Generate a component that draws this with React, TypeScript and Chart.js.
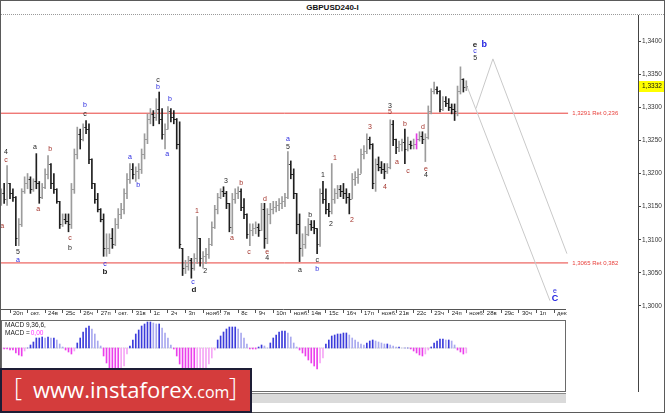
import React, { useEffect, useRef } from 'react';
import { Chart, registerables } from 'chart.js';

Chart.register(...registerables);

// ---------------- data ----------------
const SYMBOL = 'GBPUSD240-I';
const FIRST_BAR = -3; // bar index of first H4 bar (0 = 20 Oct 00:00)
const BARS_PER_DAY = 6;

// [open, high, low, close]
const BARS: number[][] = [
  [1.3162,1.3177,1.3152,1.3170],[1.3170,1.3185,1.3155,1.3162],[1.3162,1.3212,1.3152,1.3185],
  [1.3185,1.3185,1.3162,1.3170],[1.3170,1.3177,1.3158,1.3165],[1.3165,1.3165,1.3091,1.3102],
  [1.3102,1.3132,1.3091,1.3124],[1.3124,1.3177,1.3120,1.3174],[1.3174,1.3195,1.3170,1.3185],
  [1.3185,1.3200,1.3177,1.3192],[1.3192,1.3195,1.3170,1.3177],[1.3177,1.3192,1.3173,1.3188],
  [1.3188,1.3230,1.3177,1.3185],[1.3185,1.3188,1.3155,1.3165],[1.3165,1.3185,1.3162,1.3180],
  [1.3180,1.3207,1.3177,1.3200],[1.3200,1.3227,1.3192,1.3215],[1.3215,1.3215,1.3177,1.3185],
  [1.3185,1.3200,1.3170,1.3177],[1.3177,1.3177,1.3155,1.3158],[1.3158,1.3158,1.3117,1.3124],
  [1.3124,1.3139,1.3120,1.3132],[1.3132,1.3139,1.3124,1.3129],[1.3129,1.3139,1.3112,1.3124],
  [1.3124,1.3185,1.3117,1.3177],[1.3177,1.3237,1.3170,1.3230],[1.3230,1.3270,1.3222,1.3260],
  [1.3260,1.3267,1.3237,1.3252],[1.3252,1.3275,1.3249,1.3270],[1.3270,1.3280,1.3260,1.3267],
  [1.3267,1.3275,1.3215,1.3222],[1.3222,1.3222,1.3177,1.3185],[1.3185,1.3185,1.3155,1.3162],
  [1.3162,1.3170,1.3142,1.3147],[1.3147,1.3147,1.3127,1.3132],[1.3132,1.3139,1.3075,1.3087],
  [1.3087,1.3109,1.3075,1.3087],[1.3087,1.3109,1.3079,1.3102],[1.3102,1.3117,1.3087,1.3094],
  [1.3094,1.3132,1.3091,1.3124],[1.3124,1.3147,1.3117,1.3139],[1.3139,1.3155,1.3132,1.3147],
  [1.3147,1.3177,1.3139,1.3170],[1.3170,1.3200,1.3162,1.3192],[1.3192,1.3215,1.3185,1.3207],
  [1.3207,1.3215,1.3192,1.3200],[1.3200,1.3210,1.3188,1.3204],[1.3204,1.3215,1.3192,1.3207],
  [1.3207,1.3237,1.3200,1.3230],[1.3230,1.3260,1.3222,1.3252],[1.3252,1.3290,1.3245,1.3283],
  [1.3283,1.3298,1.3275,1.3290],[1.3290,1.3295,1.3272,1.3286],[1.3286,1.3313,1.3280,1.3298],
  [1.3298,1.3323,1.3275,1.3283],[1.3283,1.3298,1.3252,1.3260],[1.3260,1.3275,1.3237,1.3267],
  [1.3267,1.3301,1.3267,1.3295],[1.3295,1.3298,1.3278,1.3286],[1.3286,1.3295,1.3275,1.3283],
  [1.3283,1.3283,1.3237,1.3245],[1.3245,1.3278,1.3087,1.3094],[1.3087,1.3087,1.3046,1.3057],
  [1.3057,1.3069,1.3049,1.3060],[1.3060,1.3075,1.3054,1.3069],[1.3069,1.3072,1.3042,1.3057],
  [1.3057,1.3079,1.3054,1.3072],[1.3072,1.3135,1.3064,1.3102],[1.3102,1.3102,1.3060,1.3072],
  [1.3072,1.3082,1.3057,1.3075],[1.3075,1.3087,1.3064,1.3079],[1.3079,1.3102,1.3072,1.3094],
  [1.3094,1.3127,1.3091,1.3120],[1.3120,1.3152,1.3117,1.3147],[1.3147,1.3170,1.3139,1.3165],
  [1.3165,1.3177,1.3162,1.3173],[1.3173,1.3180,1.3165,1.3170],[1.3170,1.3173,1.3147,1.3155],
  [1.3155,1.3155,1.3112,1.3120],[1.3120,1.3170,1.3109,1.3162],[1.3162,1.3177,1.3155,1.3170],
  [1.3170,1.3180,1.3162,1.3173],[1.3173,1.3177,1.3144,1.3150],[1.3150,1.3162,1.3132,1.3139],
  [1.3139,1.3139,1.3102,1.3109],[1.3109,1.3124,1.3091,1.3114],[1.3114,1.3124,1.3106,1.3117],
  [1.3117,1.3127,1.3109,1.3120],[1.3120,1.3124,1.3105,1.3114],[1.3114,1.3155,1.3114,1.3147],
  [1.3147,1.3155,1.3087,1.3102],[1.3102,1.3147,1.3094,1.3139],[1.3139,1.3155,1.3124,1.3147],
  [1.3147,1.3158,1.3139,1.3150],[1.3150,1.3158,1.3142,1.3152],[1.3152,1.3162,1.3144,1.3155],
  [1.3155,1.3165,1.3147,1.3159],[1.3159,1.3170,1.3150,1.3165],[1.3165,1.3233,1.3162,1.3215],
  [1.3215,1.3219,1.3192,1.3200],[1.3200,1.3207,1.3162,1.3170],[1.3170,1.3170,1.3109,1.3124],
  [1.3124,1.3139,1.3067,1.3087],[1.3087,1.3109,1.3075,1.3094],[1.3094,1.3120,1.3087,1.3109],
  [1.3109,1.3132,1.3106,1.3124],[1.3124,1.3129,1.3114,1.3120],[1.3120,1.3129,1.3109,1.3117],
  [1.3117,1.3117,1.3079,1.3094],[1.3094,1.3177,1.3090,1.3170],[1.3170,1.3188,1.3155,1.3162],
  [1.3162,1.3177,1.3139,1.3147],[1.3147,1.3155,1.3135,1.3144],[1.3144,1.3215,1.3139,1.3162],
  [1.3162,1.3177,1.3155,1.3170],[1.3170,1.3182,1.3162,1.3177],[1.3177,1.3182,1.3165,1.3174],
  [1.3174,1.3185,1.3162,1.3170],[1.3170,1.3177,1.3155,1.3165],[1.3165,1.3170,1.3139,1.3162],
  [1.3162,1.3200,1.3162,1.3192],[1.3192,1.3203,1.3182,1.3195],[1.3195,1.3207,1.3185,1.3200],
  [1.3200,1.3237,1.3200,1.3230],[1.3230,1.3242,1.3222,1.3234],[1.3234,1.3260,1.3230,1.3252],
  [1.3252,1.3255,1.3237,1.3245],[1.3245,1.3245,1.3177,1.3185],[1.3185,1.3222,1.3173,1.3215],
  [1.3215,1.3225,1.3204,1.3210],[1.3210,1.3218,1.3200,1.3207],[1.3207,1.3215,1.3192,1.3204],
  [1.3204,1.3215,1.3200,1.3210],[1.3210,1.3281,1.3207,1.3275],[1.3275,1.3280,1.3242,1.3252],
  [1.3252,1.3252,1.3230,1.3240],[1.3240,1.3249,1.3233,1.3245],[1.3245,1.3252,1.3234,1.3248],
  [1.3248,1.3267,1.3215,1.3237],[1.3237,1.3255,1.3234,1.3245],[1.3245,1.3249,1.3237,1.3243],
  [1.3243,1.3252,1.3237,1.3245],[1.3245,1.3260,1.3237,1.3252],[1.3252,1.3263,1.3249,1.3257],
  [1.3257,1.3263,1.3245,1.3252],[1.3252,1.3260,1.3218,1.3255],[1.3255,1.3302,1.3252,1.3295],
  [1.3295,1.3328,1.3290,1.3325],[1.3325,1.3338,1.3320,1.3328],[1.3328,1.3331,1.3320,1.3325],
  [1.3325,1.3325,1.3293,1.3298],[1.3298,1.3316,1.3295,1.3310],[1.3310,1.3316,1.3301,1.3307],
  [1.3307,1.3313,1.3295,1.3301],[1.3301,1.3305,1.3290,1.3298],[1.3298,1.3305,1.3280,1.3295],
  [1.3295,1.3332,1.3287,1.3325],[1.3325,1.3361,1.3320,1.3343],[1.3343,1.3343,1.3323,1.3331],
  [1.3331,1.3340,1.3325,1.3332],
];
const MARKED_BAR = 139; // bar drawn in magenta

// MACD histogram, in units of 0.0001
const MACD_HIST = [
  -1,-1,-1,-2,-2,-5,-7,-8,-3,0,
  3,6,10,10,11,10,11,10,10,8,
  4,1,-2,-4,-6,-3,5,10,16,20,
  22,19,14,7,2,-8,-15,-20,-24,-26,
  -27,-25,-18,-6,2,8,14,18,22,24,
  26,26,25,24,24,20,15,10,3,-1,
  -8,-16,-22,-26,-28,-30,-30,-29,-28,-26,
  -22,-16,-10,-2,8,12,16,19,21,21,
  21,19,15,10,4,-1,-1,-1,1,3,
  2,0,5,10,13,16,17,17,15,11,
  5,1,-2,-5,-8,-12,-15,-18,-21,-15,
  -10,4,8,12,13,14,14,15,15,13,
  10,8,6,4,3,5,7,8,7,6,
  5,4,4,3,2,1,1,0,0,0,
  -1,-3,-5,-7,-8,-6,-2,1,5,7,
  9,9,8,8,7,3,-2,-4,-6,-5,
];
const MACD_TITLE = 'MACD 9,36,6,';
const MACD_VALUE = '0,00';

const DAY_LABELS = ['20п','окт.','24в','25с','26ч','27п','окт.','31в','1с','2ч','3п','нояб.','7в','8с','9ч','10п','нояб.','14в','15с','16ч','17п','нояб.','21в','22с','23ч','24п','нояб.','28в','29с','30ч','1п','дек'];
const PRICE_TICKS = [1.3000,1.3050,1.3100,1.3150,1.3200,1.3250,1.3300,1.3350,1.3400];

const RET_LEVELS = [
  { price: 1.3291, text: '1,3291 Ret 0,236' },
  { price: 1.3065, text: '1,3065 Ret 0,382' },
];
const PROJECTION_A = [{ x: 156.2, y: 1.3332 }, { x: 184.6, y: 1.3008 }];
const PROJECTION_B = [{ x: 159.3, y: 1.3298 }, { x: 165.1, y: 1.3373 }, { x: 190.4, y: 1.3079 }];

// wave labels: bar position, price, text, degree
const WAVE_LABELS: [number, number, string, string][] = [
  [-1.4,1.3233,'4','k'],[-1.4,1.3221,'c','m'],[-2.7,1.3121,'a','m'],
  [2.7,1.3081,'5','k'],[2.7,1.3069,'a','u'],
  [8.5,1.3240,'a','k'],[9.6,1.3147,'a','m'],[13.7,1.3237,'b','m'],
  [20.5,1.3102,'c','m'],[20.5,1.3087,'b','k'],
  [25.6,1.3304,'b','u'],[25.6,1.3290,'c','k'],
  [32.5,1.3064,'c','u'],[32.5,1.3051,'b','K'],
  [41,1.3225,'a','u'],[43.8,1.3182,'b','u'],
  [50.6,1.3341,'c','k'],[50.6,1.3331,'b','u'],
  [53.7,1.3230,'a','u'],[54.7,1.3313,'b','u'],
  [62.6,1.3036,'c','u'],[62.9,1.3025,'d','K'],
  [63.9,1.3144,'1','m'],[66.7,1.3052,'2','k'],[73.8,1.3189,'3','k'],
  [75.9,1.3102,'a','m'],[79,1.3186,'b','m'],[81.7,1.3082,'c','m'],
  [87.2,1.3162,'d','m'],[87.9,1.3082,'e','m'],[87.9,1.3072,'4','k'],
  [95,1.3252,'a','u'],[95,1.3240,'5','k'],
  [99.1,1.3054,'a','k'],[102.6,1.3138,'b','k'],
  [105,1.3069,'c','k'],[105,1.3055,'b','u'],
  [107,1.3197,'1','k'],[109.7,1.3124,'2','k'],
  [111.1,1.3224,'1','m'],[116.9,1.3129,'2','m'],[123.1,1.3270,'3','m'],[128.2,1.3180,'4','m'],
  [129.9,1.3302,'3','k'],[129.9,1.3292,'5','m'],
  [132.3,1.3218,'a','m'],[135,1.3275,'b','m'],[136.1,1.3203,'c','m'],
  [141.2,1.3270,'d','m'],[142.2,1.3207,'e','m'],[142.2,1.3197,'4','k'],
  [159,1.3395,'e','K'],[162.1,1.3395,'b','U'],[159,1.3385,'c','u'],[159,1.3374,'5','k'],
  [186.3,1.3023,'e','u'],[186.3,1.3011,'C','U'],
];

// ---------------- layout / style ----------------
const FONT = '"Liberation Sans", Arial, sans-serif';
const X_MIN = -3.077;
const X_MAX_MAIN = 214.7;
const X_MAX_MACD = 190.09;
const Y_MIN = 1.299547;
const Y_MAX = 1.343925;
const RET_LINE_END = 190.8;
const RET_LABEL_AT = 192.2;
const DATE_ROW_END = 190.09;

const DEGREE_STYLE: Record<string, { color: string; font: string }> = {
  m: { color: '#a3342c', font: `7px ${FONT}` },
  k: { color: '#1e1e1e', font: `7px ${FONT}` },
  u: { color: '#2b2be0', font: `7px ${FONT}` },
  K: { color: '#1e1e1e', font: `bold 8px ${FONT}` },
  U: { color: '#2020e0', font: `bold 9px ${FONT}` },
};

const fmtPrice = (v: number) => v.toFixed(4).replace('.', ',');
const barColor = (i: number) =>
  i === MARKED_BAR - FIRST_BAR ? '#e23ee2' : BARS[i][3] >= BARS[i][0] ? '#9c9c9c' : '#1f1f1f';

const macdColors = MACD_HIST.map((v, i) => {
  const prev = i > 0 ? MACD_HIST[i - 1] : v;
  if (v >= 0) return v >= prev ? '#3b3bdb' : '#a9a9ef';
  return v <= prev ? '#eb3feb' : '#f5a6f5';
});

const mainOverlay = {
  id: 'mainOverlay',
  afterDatasetsDraw(chart: any) {
    const { ctx, chartArea: a, scales } = chart;
    const xs = scales.x;
    const ys = scales.y;
    ctx.save();
    ctx.beginPath();
    ctx.rect(a.left, a.top, a.right - a.left, a.bottom - a.top);
    ctx.clip();
    ctx.lineWidth = 1;
    BARS.forEach((b, i) => {
      const px = xs.getPixelForValue(FIRST_BAR + i);
      const yo = Math.round(ys.getPixelForValue(b[0])) + 0.5;
      const yc = Math.round(ys.getPixelForValue(b[3])) + 0.5;
      ctx.strokeStyle = barColor(i);
      ctx.beginPath();
      ctx.moveTo(px - 1.6, yo);
      ctx.lineTo(px, yo);
      ctx.moveTo(px, yc);
      ctx.lineTo(px + 1.6, yc);
      ctx.stroke();
    });
    ctx.textAlign = 'center';
    ctx.textBaseline = 'middle';
    WAVE_LABELS.forEach(([j, p, t, d]) => {
      const st = DEGREE_STYLE[d];
      ctx.font = st.font;
      ctx.fillStyle = st.color;
      ctx.fillText(t, xs.getPixelForValue(j), ys.getPixelForValue(p));
    });
    ctx.textAlign = 'left';
    ctx.font = `6px ${FONT}`;
    ctx.fillStyle = '#e8413c';
    RET_LEVELS.forEach((r) => {
      ctx.fillText(r.text, xs.getPixelForValue(RET_LABEL_AT), ys.getPixelForValue(r.price));
    });
    ctx.restore();
  },
  afterDraw(chart: any) {
    const { ctx, chartArea: a, scales } = chart;
    const xs = scales.x;
    const ys = scales.y;
    ctx.save();
    ctx.strokeStyle = '#555';
    ctx.lineWidth = 1;
    const by = Math.round(a.bottom) + 0.5;
    ctx.beginPath();
    ctx.moveTo(a.left, by);
    ctx.lineTo(xs.getPixelForValue(DATE_ROW_END), by);
    ctx.stroke();
    const last = BARS[BARS.length - 1][3];
    const yp = Math.round(ys.getPixelForValue(last));
    ctx.fillStyle = '#ffff00';
    ctx.fillRect(a.right + 1, yp - 5, chart.width - a.right - 1, 11);
    ctx.fillStyle = '#111';
    ctx.font = `6.5px ${FONT}`;
    ctx.textAlign = 'left';
    ctx.textBaseline = 'middle';
    ctx.fillText(fmtPrice(last), a.right + 4, yp + 0.5);
    ctx.restore();
  },
};

const macdOverlay = {
  id: 'macdOverlay',
  afterDraw(chart: any) {
    const { ctx, width, height } = chart;
    ctx.save();
    ctx.strokeStyle = '#6a6a6a';
    ctx.lineWidth = 1;
    ctx.strokeRect(0.5, 0.5, width - 1, height - 1);
    ctx.font = `6.5px ${FONT}`;
    ctx.textBaseline = 'middle';
    ctx.textAlign = 'left';
    ctx.fillStyle = '#222';
    ctx.fillText(MACD_TITLE, 4, 5);
    const lead = 'MACD =';
    ctx.fillText(lead, 4, 13);
    const w = ctx.measureText(lead).width;
    ctx.fillStyle = '#ff33ff';
    ctx.fillText(MACD_VALUE, 4 + w + 1, 13);
    ctx.restore();
  },
};

export default function App() {
  const mainRef = useRef<HTMLCanvasElement>(null);
  const macdRef = useRef<HTMLCanvasElement>(null);

  useEffect(() => {
    const main = new Chart(mainRef.current as HTMLCanvasElement, {
      type: 'bar',
      data: {
        datasets: [
          {
            type: 'line',
            data: [{ x: X_MIN, y: RET_LEVELS[0].price }, { x: RET_LINE_END, y: RET_LEVELS[0].price }],
            borderColor: '#e8413c', borderWidth: 1, pointRadius: 0, order: 3,
          } as any,
          {
            type: 'line',
            data: [{ x: X_MIN, y: RET_LEVELS[1].price }, { x: RET_LINE_END, y: RET_LEVELS[1].price }],
            borderColor: '#e8413c', borderWidth: 1, pointRadius: 0, order: 3,
          } as any,
          {
            type: 'line', data: PROJECTION_A,
            borderColor: '#c9c9c9', borderWidth: 1, pointRadius: 0, order: 2,
          } as any,
          {
            type: 'line', data: PROJECTION_B,
            borderColor: '#c9c9c9', borderWidth: 1, pointRadius: 0, order: 2,
          } as any,
          {
            type: 'bar',
            data: BARS.map((b, i) => ({ x: FIRST_BAR + i, y: [b[2], b[1]] })),
            backgroundColor: BARS.map((_, i) => barColor(i)),
            borderWidth: 0, barThickness: 1, grouped: false, order: 1,
          } as any,
        ],
      },
      options: {
        animation: false,
        responsive: false,
        maintainAspectRatio: false,
        devicePixelRatio: 1,
        layout: { padding: 0 },
        events: [],
        plugins: { legend: { display: false }, tooltip: { enabled: false } },
        scales: {
          x: {
            type: 'linear', position: 'bottom', min: X_MIN, max: X_MAX_MAIN, offset: false,
            afterFit: (s: any) => { s.height = 11; s.paddingLeft = 0; s.paddingRight = 0; },
            afterBuildTicks: (s: any) => { s.ticks = DAY_LABELS.map((_, k) => ({ value: k * BARS_PER_DAY })); },
            ticks: {
              autoSkip: false, maxRotation: 0, minRotation: 0, align: 'start', labelOffset: 3, padding: -3,
              font: { family: FONT, size: 6 }, color: '#222',
              callback: (_v: any, i: number) => DAY_LABELS[i],
            },
            grid: { drawOnChartArea: false, drawTicks: true, tickLength: 4, color: '#555', offset: false },
            border: { display: false },
          } as any,
          y: {
            type: 'linear', position: 'right', min: Y_MIN, max: Y_MAX,
            afterFit: (s: any) => { s.width = 26; s.paddingTop = 0; s.paddingBottom = 0; },
            afterBuildTicks: (s: any) => { s.ticks = PRICE_TICKS.map((v) => ({ value: v })); },
            ticks: { padding: 1, font: { family: FONT, size: 6.5 }, color: '#333', callback: (v: any) => fmtPrice(Number(v)) },
            grid: { drawOnChartArea: false, tickLength: 3, color: '#444' },
            border: { display: true, color: '#444' },
          } as any,
        },
      } as any,
      plugins: [mainOverlay],
    });

    const macd = new Chart(macdRef.current as HTMLCanvasElement, {
      type: 'bar',
      data: {
        datasets: [
          {
            type: 'line',
            data: [{ x: FIRST_BAR, y: 0 }, { x: FIRST_BAR + MACD_HIST.length - 1, y: 0 }],
            borderColor: '#c4c4c4', borderWidth: 1, borderDash: [1, 1], pointRadius: 0, order: 2,
          } as any,
          {
            type: 'bar',
            data: MACD_HIST.map((v, i) => ({ x: FIRST_BAR + i, y: v })),
            backgroundColor: macdColors, borderWidth: 0, barThickness: 1, grouped: false, order: 1,
          } as any,
        ],
      },
      options: {
        animation: false,
        responsive: false,
        maintainAspectRatio: false,
        devicePixelRatio: 1,
        layout: { padding: 0 },
        events: [],
        plugins: { legend: { display: false }, tooltip: { enabled: false } },
        scales: {
          x: { type: 'linear', display: false, min: X_MIN, max: X_MAX_MACD, offset: false } as any,
          y: { type: 'linear', display: false, min: -44, max: 28 } as any,
        },
      } as any,
      plugins: [macdOverlay],
    });

    return () => { main.destroy(); macd.destroy(); };
  }, []);

  return (
    <div style={{ position: 'fixed', left: 0, top: 0, width: 665, height: 413, boxSizing: 'border-box', border: '1px solid #5a5a5a', background: '#fff' }}>
      <div style={{ position: 'absolute', left: 0, top: 0, width: 663, height: 13, textAlign: 'center', font: `bold 8px ${FONT}`, lineHeight: '13px', color: '#111' }}>{SYMBOL}</div>
      <div style={{ position: 'absolute', left: 0, top: 13, width: 663, height: 0, borderTop: '1px dotted #9a9a9a' }} />
      <canvas ref={mainRef} width={663} height={305} style={{ position: 'absolute', left: 0, top: 14, width: 663, height: 305 }} />
      <div style={{ position: 'absolute', left: 637, top: 308, width: 1, height: 83, background: '#444' }} />
      <canvas ref={macdRef} width={565} height={72} style={{ position: 'absolute', left: 0, top: 319, width: 565, height: 72 }} />
      <div style={{ position: 'absolute', left: 250, top: 392, width: 315, height: 10, boxSizing: 'border-box', background: '#dadada', borderTop: '1px solid #8a8a8a' }} />
      <div style={{ position: 'absolute', left: -1, top: 367, width: 252, height: 45, boxSizing: 'border-box', border: '2px solid #1d1d35', background: '#d43c3c', color: '#fff', fontFamily: '"Open Sans", sans-serif', overflow: 'hidden' }}>
        <div style={{ position: 'absolute', left: 12, top: 4, fontSize: 25, lineHeight: '25px', fontWeight: 300 }}>[</div>
        <div style={{ position: 'absolute', left: 31, top: 8, fontSize: 22, lineHeight: '22px', whiteSpace: 'nowrap' }}>
          <span>www.instaforex</span><span style={{ fontSize: 16 }}>.com</span>
        </div>
        <div style={{ position: 'absolute', left: 227, top: 4, fontSize: 25, lineHeight: '25px', fontWeight: 300 }}>]</div>
      </div>
    </div>
  );
}
